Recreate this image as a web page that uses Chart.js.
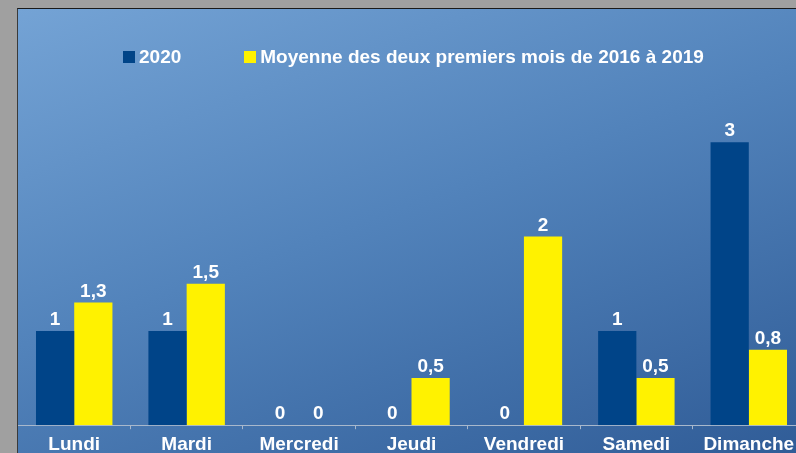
<!DOCTYPE html>
<html>
<head>
<meta charset="utf-8">
<script src="https://cdn.jsdelivr.net/npm/chart.js@4"></script>
<style>
  html, body { margin: 0; padding: 0; width: 796px; height: 453px; overflow: hidden; background: #a0a0a0; }
  #cadre {
    position: absolute; left: 17px; top: 8px; width: 800px; height: 460px;
    border-top: 1px solid #1a1a1a; border-left: 1px solid #3a3a3a;
    background: linear-gradient(160deg, #74a3d5 0%, #5283bb 45%, #2e5a95 100%);
    overflow: hidden;
  }
  #graphique { position: absolute; left: 0; top: 0; }
  #legende {
    position: absolute; left: 105px; top: 37px; display: flex; align-items: center;
    font: bold 19px "Liberation Sans", Arial, sans-serif; color: #fff; white-space: nowrap;
  }
  #legende .item { display: flex; align-items: center; margin-right: 63px; }
  #legende .boite { width: 12px; height: 12px; margin-right: 4px; }
</style>
</head>
<body>
<div id="cadre">
  <canvas id="graphique" width="787" height="451"></canvas>
  <div id="legende"></div>
</div>
<script>
const jours = ['Lundi', 'Mardi', 'Mercredi', 'Jeudi', 'Vendredi', 'Samedi', 'Dimanche'];
const serie2020 = [1, 1, 0, 0, 0, 1, 3];
const serieMoyenne = [1.3, 1.5, 0, 0.5, 2, 0.5, 0.8];
const nomsSeries = ['2020', 'Moyenne des deux premiers mois de 2016 à 2019'];
const couleurs = ['#004488', '#fff200'];

const police = '"Liberation Sans", Arial, sans-serif';

// legende en html
const legende = document.getElementById('legende');
nomsSeries.forEach(function (nom, i) {
  const item = document.createElement('div');
  item.className = 'item';
  const boite = document.createElement('div');
  boite.className = 'boite';
  boite.style.background = couleurs[i];
  const texte = document.createElement('span');
  texte.textContent = nom;
  item.appendChild(boite);
  item.appendChild(texte);
  legende.appendChild(item);
});

// valeurs au-dessus des barres
const etiquettes = {
  id: 'etiquettes',
  afterDatasetsDraw(chart) {
    const ctx = chart.ctx;
    ctx.save();
    ctx.fillStyle = '#ffffff';
    ctx.font = 'bold 19px ' + police;
    ctx.textAlign = 'center';
    ctx.textBaseline = 'alphabetic';
    chart.data.datasets.forEach(function (ds, i) {
      chart.getDatasetMeta(i).data.forEach(function (barre, j) {
        const txt = String(ds.data[j]).replace('.', ',');
        ctx.fillText(txt, barre.x, barre.y - 6);
      });
    });
    ctx.restore();
  }
};

new Chart(document.getElementById('graphique'), {
  type: 'bar',
  data: {
    labels: jours,
    datasets: [
      { label: nomsSeries[0], data: serie2020, backgroundColor: couleurs[0] },
      { label: nomsSeries[1], data: serieMoyenne, backgroundColor: couleurs[1] }
    ]
  },
  options: {
    responsive: false,
    animation: false,
    layout: { padding: { top: 39, left: 0, right: 0, bottom: 0 } },
    datasets: { bar: { categoryPercentage: 0.68, barPercentage: 1 } },
    plugins: { legend: { display: false }, tooltip: { enabled: false } },
    scales: {
      x: {
        offset: true,
        grid: { display: true, drawOnChartArea: false, offset: true, color: '#a8b8cc', tickLength: 4 },
        border: { color: '#a8b8cc', width: 1 },
        ticks: { color: '#ffffff', padding: 4, font: { family: police, size: 19, weight: 'bold' } }
      },
      y: {
        display: false,
        min: 0,
        max: 4
      }
    }
  },
  plugins: [etiquettes]
});
</script>
</body>
</html>
